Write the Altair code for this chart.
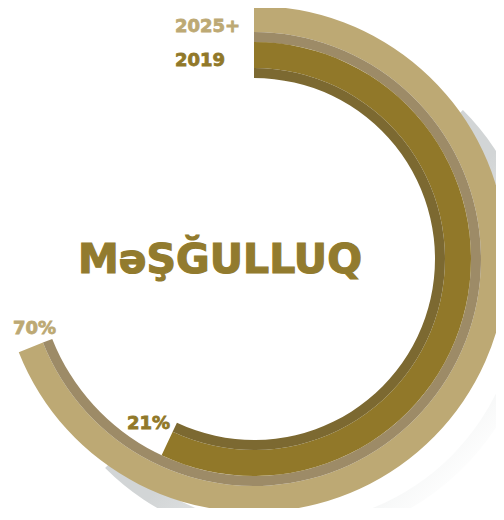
import math
import altair as alt
import pandas as pd

# ---- data ----
series = ["2025+", "2019"]
arc_share = [0.69, 0.57]          # share of the full circle covered by each arc
pct_labels = ["70%", "21%"]
center_title = "MəŞĞULLUQ"

df = pd.DataFrame({
    "series": series,
    "start": [0.0, 0.0],
    "share": arc_share,
    "pct": pct_labels,
})
shadow_df = pd.DataFrame({"start": [0.125], "share": [0.625]})

# ---- styling ----
TAN = "#BDA974"
TAN_STRIP = "#9D8B67"
OLIVE = "#917829"
OLIVE_STRIP = "#7C6931"
FONT = "DejaVu Sans"
CX, CY = 246, 251

theta_scale = alt.Scale(domain=[0, 1], range=[0, 2 * math.pi])


def band(data, filt, color, r_out, r_in, cx=CX, cy=CY):
    ch = alt.Chart(data)
    if filt is not None:
        ch = ch.transform_filter(filt)
    return ch.mark_arc(color=color, stroke=None).encode(
        theta=alt.Theta("start:Q", scale=theta_scale, stack=False),
        theta2="share:Q",
        radius=alt.value(r_out),
        radius2=alt.value(r_in),
        x=alt.value(cx),
        y=alt.value(cy),
    )


shadow = alt.Chart(shadow_df).mark_arc(
    color=alt.LinearGradient(
        gradient="linear",
        x1=0.5, y1=0.5, x2=1, y2=1,
        stops=[
            alt.GradientStop(offset=0.0, color="#d2d5d6"),
            alt.GradientStop(offset=0.35, color="#eceeee"),
            alt.GradientStop(offset=0.7, color="#ffffff"),
        ],
    )
).encode(
    theta=alt.Theta("start:Q", scale=theta_scale, stack=False),
    theta2="share:Q",
    radius=alt.value(253),
    radius2=alt.value(236),
    x=alt.value(CX + 30),
    y=alt.value(CY + 30),
)

f_outer = alt.datum.series == series[0]
f_inner = alt.datum.series == series[1]

layers = [
    shadow,
    band(df, f_outer, TAN, 253, 227),
    band(df, f_outer, TAN_STRIP, 227, 217),
    band(df, f_inner, OLIVE, 217, 191),
    band(df, f_inner, OLIVE_STRIP, 191, 181),
]


def label(data, filt, field, color, x, y, size=18, sw=0.8):
    ch = alt.Chart(data)
    if filt is not None:
        ch = ch.transform_filter(filt)
    return ch.mark_text(
        font=FONT, fontWeight="bold", fontSize=size, align="left", baseline="alphabetic",
        color=color, stroke=color, strokeWidth=sw,
    ).encode(text=field, x=alt.value(x), y=alt.value(y))


# series names at the top
layers.append(label(df, f_outer, "series:N", TAN, 167, 24))
layers.append(label(df, f_inner, "series:N", OLIVE, 167, 58))
# percentage labels at arc ends
layers.append(label(df, f_outer, "pct:N", TAN, 5, 326))
layers.append(label(df, f_inner, "pct:N", OLIVE, 119, 421))
# centre title
layers.append(
    alt.Chart(pd.DataFrame({"t": [center_title]})).mark_text(
        font=FONT, fontWeight="bold", fontSize=41, align="center", baseline="alphabetic",
        color="#927B2E", stroke="#927B2E", strokeWidth=1.2,
    ).encode(text="t:N", x=alt.value(212), y=alt.value(265))
)

chart = alt.layer(*layers).properties(
    width=488,
    height=500,
    autosize=alt.AutoSizeParams(type="none"),
    padding=0,
).configure_view(stroke=None)

chart.save("out.html", embed_options={"renderer": "svg", "actions": False})
